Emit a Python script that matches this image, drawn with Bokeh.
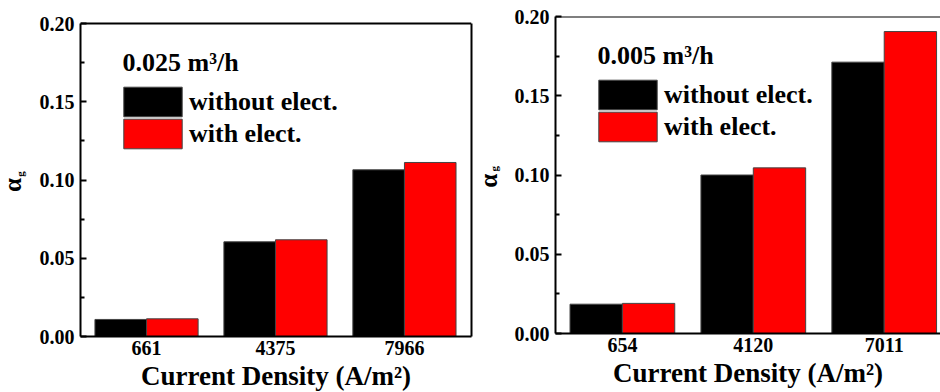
import math
from bokeh.plotting import figure
from bokeh.layouts import row
from bokeh.models import (ColumnDataSource, FixedTicker, Label, Legend, LegendItem,
                          LinearAxis, Range1d, Span)
from bokeh.transform import dodge
from bokeh.embed import file_html
from bokeh.resources import INLINE

# ---- data ----
left_categories = ["661", "4375", "7966"]
left_without = [0.0109, 0.0605, 0.1065]
left_with = [0.0113, 0.0618, 0.1112]
left_title = "0.025 m\u00b3/h"

right_categories = ["654", "4120", "7011"]
right_without = [0.0185, 0.1000, 0.1712]
right_with = [0.0190, 0.1045, 0.1905]
right_title = "0.005 m\u00b3/h"

series_names = ["without elect.", "with elect."]
y_ticks = [0.00, 0.05, 0.10, 0.15, 0.20]
y_minor = [0.025, 0.075, 0.125, 0.175]
y_max = 0.20
x_label = "Current Density (A/m\u00b2)"
y_label_main = "\u03b1"
y_label_sub = "g"

FONT = "Liberation Serif"


def style_axis(ax):
    ax.axis_line_width = 2
    ax.axis_line_color = "black"
    ax.major_tick_line_color = "black"
    ax.minor_tick_line_color = "black"
    ax.major_tick_line_width = 2
    ax.minor_tick_line_width = 2
    ax.major_label_text_font = FONT
    ax.major_label_text_font_style = "bold"
    ax.major_label_text_font_size = "20px"
    ax.major_label_text_color = "black"
    ax.axis_label_text_font = FONT
    ax.axis_label_text_font_style = "bold"
    ax.axis_label_text_color = "black"


def make_panel(cats, without, with_, title, frame_w, frame_h, x_rng, y_top,
               b_left, b_right, b_top, b_bottom, leg_x, leg_y1, leg_y2,
               alpha_at, g_at, right_line):
    pos = list(range(1, len(cats) + 1))
    src = ColumnDataSource(dict(x=pos, a=without, b=with_))
    p = figure(frame_width=frame_w, frame_height=frame_h,
               x_range=Range1d(*x_rng), y_range=Range1d(0, y_top),
               output_backend="svg", toolbar_location=None,
               title_location=None,
               min_border_left=b_left, min_border_right=b_right,
               min_border_top=b_top, min_border_bottom=b_bottom)
    p.grid.visible = False
    p.background_fill_color = "white"
    p.border_fill_color = "white"
    p.outline_line_color = None
    # top edge of the plot box at y = 0.20
    p.add_layout(Span(location=y_max, dimension="width", line_color="black",
                      line_width=2))

    r1 = p.vbar(x=dodge("x", -0.2, range=p.x_range), top="a", width=0.4, source=src,
                fill_color="black", line_color="#444444", line_width=1)
    r2 = p.vbar(x=dodge("x", 0.2, range=p.x_range), top="b", width=0.4, source=src,
                fill_color="#ff0000", line_color="#444444", line_width=1)

    # axes
    p.xaxis.ticker = FixedTicker(ticks=pos)
    p.xaxis.major_label_overrides = {v: c for v, c in zip(pos, cats)}
    p.yaxis.ticker = FixedTicker(ticks=y_ticks, minor_ticks=y_minor)
    p.yaxis.major_label_overrides = {v: f"{v:.2f}" for v in y_ticks}
    p.yaxis.bounds = (0, y_max)
    style_axis(p.xaxis[0])
    style_axis(p.yaxis[0])
    p.xaxis.major_tick_in = 0
    p.xaxis.major_tick_out = 0
    p.xaxis.minor_tick_in = 0
    p.xaxis.minor_tick_out = 0
    p.yaxis.major_tick_in = 6
    p.yaxis.major_tick_out = 0
    p.yaxis.minor_tick_in = 4
    p.yaxis.minor_tick_out = 0
    p.yaxis.major_label_standoff = 6
    p.xaxis.major_label_standoff = 4
    p.xaxis.axis_label = x_label
    p.xaxis.axis_label_text_font_size = "27px"
    p.xaxis.axis_label_standoff = 3

    if right_line:
        rax = LinearAxis(ticker=FixedTicker(ticks=[]), bounds=(0, y_max))
        style_axis(rax)
        rax.major_tick_in = 0
        rax.major_tick_out = 0
        rax.minor_tick_in = 0
        rax.minor_tick_out = 0
        rax.major_label_standoff = 0
        p.add_layout(rax, "right")

    # y axis label: alpha with subscript g (rotated texts in the border panels)
    p.add_layout(Label(x=alpha_at[0], y=alpha_at[1], text=y_label_main,
                       angle=math.pi / 2, text_align="center",
                       text_baseline="middle", text_font=FONT,
                       text_font_style="bold", text_font_size="25px",
                       text_color="black"), "left")
    p.add_layout(Label(x=g_at[0], y=g_at[1], text=y_label_sub,
                       angle=math.pi / 2, text_align="center",
                       text_baseline="middle", text_font=FONT,
                       text_font_style="bold", text_font_size="11px",
                       text_color="black"), "above")

    common = dict(label_text_font=FONT, label_text_font_style="bold",
                  label_text_font_size="26px", label_text_color="black",
                  label_height=20, glyph_width=73, glyph_height=37, spacing=0,
                  label_standoff=0, padding=0, margin=0,
                  border_line_color=None, background_fill_alpha=0)
    leg1 = Legend(items=[LegendItem(label=series_names[0], renderers=[r1])],
                  location=(leg_x, leg_y1), title="\u00a0" + title,
                  title_text_font=FONT, title_text_font_style="bold",
                  title_text_font_size="26px", title_text_color="black",
                  title_standoff=5, **common)
    leg2 = Legend(items=[LegendItem(label=series_names[1], renderers=[r2])],
                  location=(leg_x, leg_y2), **common)
    p.add_layout(leg1, "center")
    p.add_layout(leg2, "center")
    return p


p1 = make_panel(left_categories, left_without, left_with, left_title,
                391, 320, (0.488, 3.52), y_max * 320 / 313,
                80, 4, 16, 56, 36, 216, 184,
                (-0.042, 0.0968), (0.015, 0.1038), True)
p2 = make_panel(right_categories, right_without, right_with, right_title,
                385, 317, (0.489, 3.43), y_max,
                80, 0, 16, 59, 36, 220, 188,
                (-0.024, 0.0964), (0.02, 0.104), False)

layout = row(p1, p2)
open("out.html", "w").write(file_html(layout, INLINE))
